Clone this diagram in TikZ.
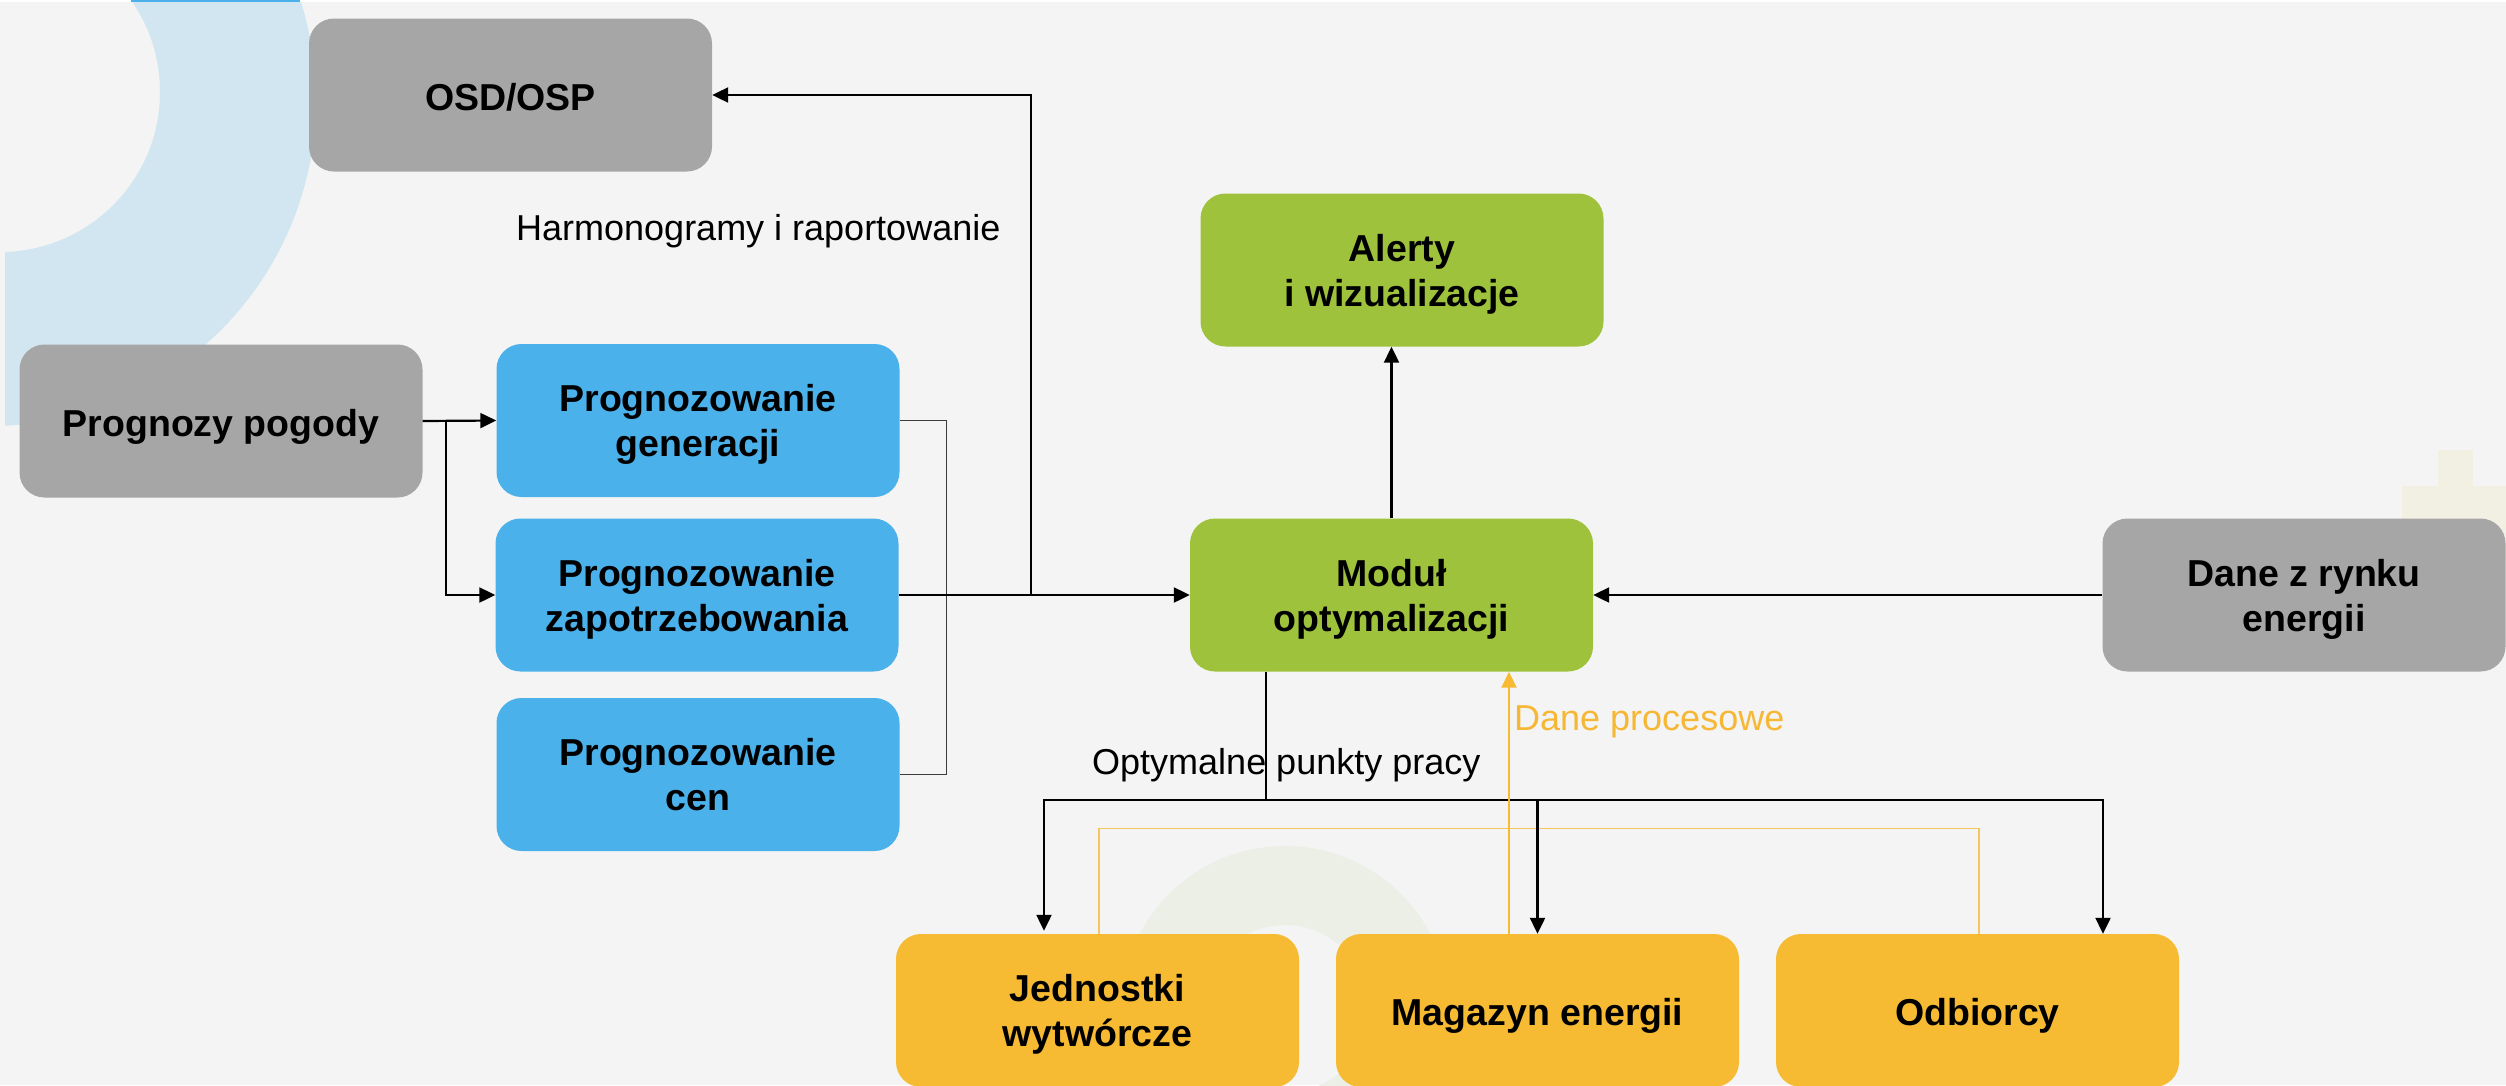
\documentclass[tikz,border=0pt]{standalone}
\usepackage{fontspec}
\setmainfont{Liberation Sans}
\usetikzlibrary{arrows.meta}
\definecolor{bgc}{HTML}{F4F4F4}
\definecolor{boxgrey}{HTML}{A6A6A6}
\definecolor{boxblue}{HTML}{4BB1EB}
\definecolor{boxgreen}{HTML}{9FC23C}
\definecolor{boxorange}{HTML}{F6BA33}
\definecolor{decoblue}{HTML}{D2E6F1}
\definecolor{decogreen}{HTML}{EBEFE5}
\definecolor{decobeige}{HTML}{F2EFE3}
\definecolor{topblue}{HTML}{4BB1EB}
\definecolor{ortext}{HTML}{F6B834}
\definecolor{orline}{HTML}{F7C55E}
\definecolor{brgrey}{HTML}{3C3C3C}
\newcommand{\topln}{\rule{0pt}{35pt}}
\newcommand{\botln}{\rule[-8pt]{0pt}{0pt}}
\begin{document}
\begin{tikzpicture}[x=1pt,y=-1pt,
  box/.style={rectangle, rounded corners=25pt, minimum width=403pt, minimum height=153pt,
    inner sep=0pt, align=center, font=\bfseries\fontsize{37.5}{45}\selectfont, text=black},
  oneline/.style={text height=30pt, text depth=0pt},
  greybox/.style={box, fill=boxgrey},
  bluebox/.style={box, fill=boxblue},
  greenbox/.style={box, fill=boxgreen},
  orangebox/.style={box, fill=boxorange},
  lab/.style={font=\fontsize{36}{45}\selectfont, inner sep=0pt},
  conn/.style={line width=2.2pt, draw=black},
  arr/.style={conn, -{Triangle[length=16pt, width=15pt]}},
  oarr/.style={line width=2pt, draw=boxorange, -{Triangle[length=16pt, width=15pt]}},
  obrk/.style={line width=1.3pt, draw=orline},
  gbrk/.style={line width=1.3pt, draw=brgrey}
]
\useasboundingbox (0,0) rectangle (2506,1085);
% background
\fill[bgc] (0,0) rectangle (2506,1085);
\begin{scope}
  \clip (5,0) rectangle (2506,1085);
  \fill[decoblue, even odd rule] (-10,100) circle (326pt) (0,92) circle (160pt);
\end{scope}
\begin{scope}
  \clip (0,0) rectangle (2506,1085);
  \fill[decogreen, even odd rule] (1285,1010) circle (164pt) (1285,1009) circle (84pt);
\end{scope}
\fill[decobeige] (2438,450) rectangle (2473,560);
\fill[decobeige] (2402,486) rectangle (2506,560);
\fill[white] (0,0) rectangle (2506,2);
\fill[topblue] (131,0) rectangle (300,2);

% nodes
\node[greybox, oneline] (osd) at (510.5,95) {OSD/OSP};
\node[greybox, oneline] (pp) at (221,421) {Prognozy pogody};
\node[bluebox] (gen) at (698,420.5) {\topln Prognozowanie\\generacji\botln};
\node[bluebox] (zap) at (697,595) {\topln Prognozowanie\\zapotrzebowania\botln};
\node[bluebox] (cen) at (698,774.5) {\topln Prognozowanie\\cen\botln};
\node[greenbox] (al) at (1402,270) {\topln Alerty\\i wizualizacje\botln};
\node[greenbox] (mod) at (1391.5,595) {\topln Moduł\\optymalizacji\botln};
\node[greybox] (dr) at (2304,595) {\topln Dane z rynku\\energii\botln};
\node[orangebox] (jw) at (1097.5,1010.5) {\topln Jednostki\\wytwórcze\botln};
\node[orangebox, oneline] (mag) at (1537.5,1010.5) {Magazyn energii};
\node[orangebox, oneline] (odb) at (1977.5,1010.5) {Odbiorcy};

% labels
\node[lab, anchor=base west] (lh) at (516,240) {Harmonogramy i raportowanie};
\node[lab, anchor=base west] (lo) at (1092,774) {Optymalne punkty pracy};
\node[lab, anchor=base west, text=ortext] (ld) at (1514,730) {Dane procesowe};

% grey bracket of forecasts
\draw[gbrk] (gen.east) -- ++(47,0) |- (cen.east);
% orange bracket of units
\draw[obrk] ([xshift=1.5pt]jw.north) -- ++(0,-105) -| ([xshift=1.5pt]odb.north);

% weather -> forecasts
\coordinate (br) at (446,421);
\draw[arr] (pp.east) -- (gen.west);
\draw[arr] (br) |- (zap.west);
% forecasts -> module
\draw[arr] (zap.east) -- (mod.west);
\coordinate (j1) at (1031,595);
\draw[arr] (j1) |- (osd.east);
% module -> alerts
\draw[arr] (mod.north) -- (mod.north |- al.south);
% market -> module
\draw[arr] (dr.west) -- (mod.east);
% module -> units
\coordinate (bus) at (1266,800);
\draw[conn] (mod.south -| bus) -- (bus);
\draw[arr, shorten >=3pt] (bus) -| ([xshift=-53.5pt]jw.north);
\draw[arr] (bus) -| (mag.north);
\draw[arr] (bus) -| ([xshift=125.5pt]odb.north);
% process data
\coordinate (mo) at ([xshift=-28.5pt]mag.north);
\draw[oarr] (mo) -- (mo |- mod.south);
\end{tikzpicture}
\end{document}
